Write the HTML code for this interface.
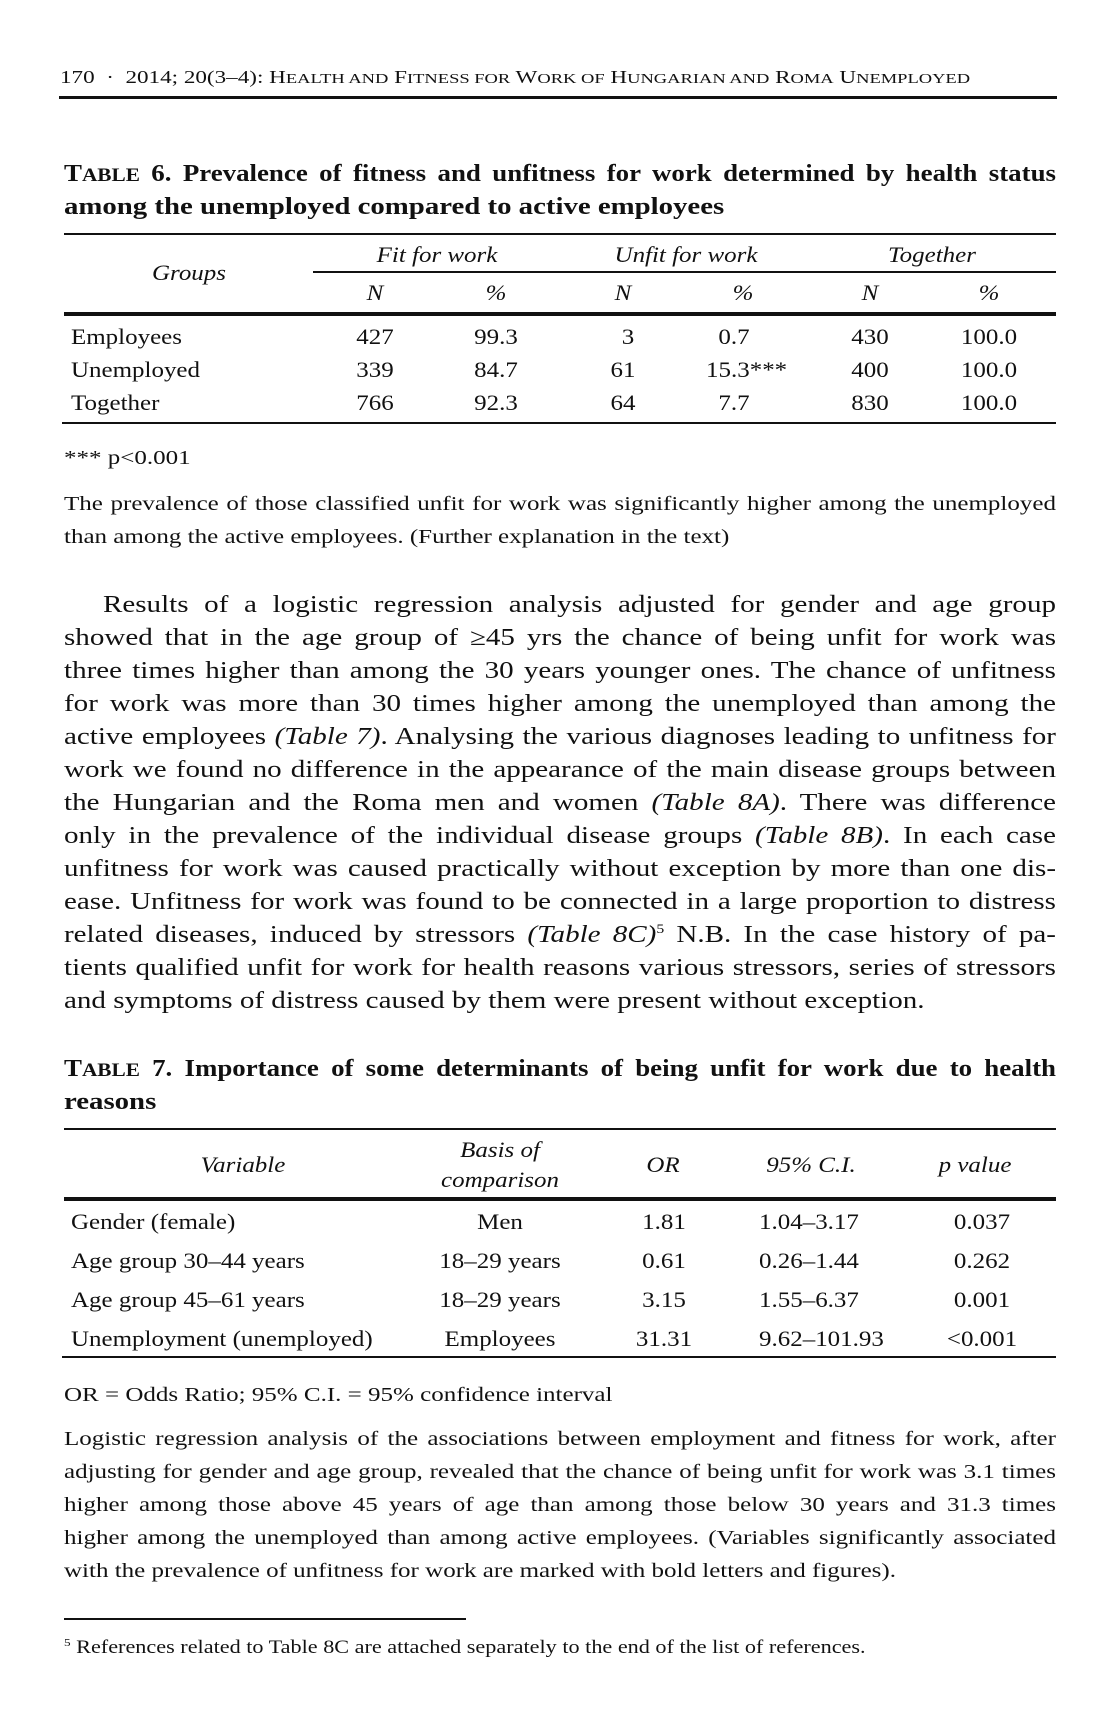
<!DOCTYPE html>
<html><head><meta charset="utf-8"><style>
body{margin:0;background:#fff}
#p{position:relative;width:1112px;height:1725px;overflow:hidden;font-family:"Liberation Serif",serif;color:#111}
#p div{position:absolute;line-height:32px;white-space:nowrap;transform-origin:0 50%}
.r{position:absolute;background:#111}
.j{--s:1.21;left:64px;width:calc(992px / var(--s));text-align:justify;text-align-last:justify;white-space:normal!important;font-size:24px;transform:scaleX(var(--s))}
.b{font-size:24px;transform:scaleX(1.21)}
.t{font-size:22.5px;transform:scaleX(1.11)}
.t.c{transform:translateX(-50%) scaleX(1.11);transform-origin:50% 50%!important}
.i{font-style:italic}
.n{font-size:20.5px;transform:scaleX(1.22)}
.j.n{--s:1.22;transform:scaleX(var(--s))}
.bt{font-weight:bold;font-size:24px;transform:scaleX(1.2)}
.j.bt{--s:1.12;transform:scaleX(var(--s))}
sup{line-height:0;vertical-align:super}
</style></head><body><div id="p">
<div style="left:60px;top:61px;font-size:17.5px;transform:scaleX(1.32)">170 &nbsp;·&nbsp; 2014; 20(3–4): H<span style="font-size:14px">EALTH AND</span> F<span style="font-size:14px">ITNESS FOR</span> W<span style="font-size:14px">ORK OF</span> H<span style="font-size:14px">UNGARIAN AND</span> R<span style="font-size:14px">OMA</span> U<span style="font-size:14px">NEMPLOYED</span></div>
<div class="r" style="left:59px;top:96px;width:998px;height:3px"></div>

<div class="j bt" style="top:158px">T<span style="font-size:19px">ABLE</span> 6. Prevalence of fitness and unfitness for work determined by health status</div>
<div class="bt" style="left:64px;top:191px">among the unemployed compared to active employees</div>
<div class="r" style="left:64px;top:233px;width:992px;height:2px"></div>
<div class="t i c" style="left:437px;top:239px">Fit for work</div>
<div class="t i c" style="left:686px;top:239px">Unfit for work</div>
<div class="t i c" style="left:932px;top:239px">Together</div>
<div class="t i c" style="left:189px;top:257px">Groups</div>
<div class="r" style="left:313px;top:271px;width:743px;height:2px"></div>
<div class="t i c" style="left:375px;top:277px">N</div>
<div class="t i c" style="left:496px;top:277px">%</div>
<div class="t i c" style="left:623px;top:277px">N</div>
<div class="t i c" style="left:743px;top:277px">%</div>
<div class="t i c" style="left:870px;top:277px">N</div>
<div class="t i c" style="left:989px;top:277px">%</div>
<div class="r" style="left:64px;top:312px;width:992px;height:4px"></div>

<div class="t" style="left:71px;top:321px">Employees</div>
<div class="t c" style="left:375px;top:321px">427</div><div class="t c" style="left:496px;top:321px">99.3</div><div class="t c" style="left:628px;top:321px">3</div><div class="t c" style="left:734px;top:321px">0.7</div><div class="t c" style="left:870px;top:321px">430</div><div class="t c" style="left:989px;top:321px">100.0</div>
<div class="t" style="left:71px;top:354px">Unemployed</div>
<div class="t c" style="left:375px;top:354px">339</div><div class="t c" style="left:496px;top:354px">84.7</div><div class="t c" style="left:623px;top:354px">61</div><div class="t" style="left:706px;top:354px">15.3***</div><div class="t c" style="left:870px;top:354px">400</div><div class="t c" style="left:989px;top:354px">100.0</div>
<div class="t" style="left:71px;top:387px">Together</div>
<div class="t c" style="left:375px;top:387px">766</div><div class="t c" style="left:496px;top:387px">92.3</div><div class="t c" style="left:623px;top:387px">64</div><div class="t c" style="left:734px;top:387px">7.7</div><div class="t c" style="left:870px;top:387px">830</div><div class="t c" style="left:989px;top:387px">100.0</div>
<div class="r" style="left:62px;top:422px;width:994px;height:2px"></div>

<div class="n" style="left:64px;top:442px">*** p&lt;0.001</div>
<div class="j n" style="top:488px">The prevalence of those classified unfit for work was significantly higher among the unemployed</div>
<div class="n" style="left:64px;top:521px">than among the active employees. (Further explanation in the text)</div>

<div class="j" style="top:589px;left:103px;width:calc(953px / 1.21)">Results of a logistic regression analysis adjusted for gender and age group</div>
<div class="j" style="top:622px">showed that in the age group of ≥45 yrs the chance of being unfit for work was</div>
<div class="j" style="top:655px">three times higher than among the 30 years younger ones. The chance of unfitness</div>
<div class="j" style="top:688px">for work was more than 30 times higher among the unemployed than among the</div>
<div class="j" style="top:721px">active employees <i>(Table 7)</i>. Analysing the various diagnoses leading to unfitness for</div>
<div class="j" style="top:754px">work we found no difference in the appearance of the main disease groups between</div>
<div class="j" style="top:787px">the Hungarian and the Roma men and women <i>(Table 8A)</i>. There was difference</div>
<div class="j" style="top:820px">only in the prevalence of the individual disease groups <i>(Table 8B)</i>. In each case</div>
<div class="j" style="top:853px">unfitness for work was caused practically without exception by more than one dis-</div>
<div class="j" style="top:886px">ease. Unfitness for work was found to be connected in a large proportion to distress</div>
<div class="j" style="top:919px">related diseases, induced by stressors <i>(Table 8C)</i><sup style="font-size:13px">5</sup> N.B. In the case history of pa-</div>
<div class="j" style="top:952px">tients qualified unfit for work for health reasons various stressors, series of stressors</div>
<div class="b" style="left:64px;top:985px">and symptoms of distress caused by them were present without exception.</div>

<div class="j bt" style="top:1053px">T<span style="font-size:19px">ABLE</span> 7. Importance of some determinants of being unfit for work due to health</div>
<div class="bt" style="left:64px;top:1086px">reasons</div>
<div class="r" style="left:64px;top:1128px;width:992px;height:2px"></div>
<div class="t i c" style="left:243px;top:1149px">Variable</div>
<div class="t i c" style="left:500px;top:1134px">Basis of</div>
<div class="t i c" style="left:500px;top:1164px">comparison</div>
<div class="t i c" style="left:663px;top:1149px">OR</div>
<div class="t i c" style="left:811px;top:1149px">95% C.I.</div>
<div class="t i c" style="left:975px;top:1149px">p value</div>
<div class="r" style="left:64px;top:1197px;width:992px;height:4px"></div>

<div class="t" style="left:71px;top:1206px">Gender (female)</div><div class="t c" style="left:500px;top:1206px">Men</div><div class="t c" style="left:664px;top:1206px">1.81</div><div class="t" style="left:759px;top:1206px">1.04–3.17</div><div class="t c" style="left:982px;top:1206px">0.037</div>
<div class="t" style="left:71px;top:1245px">Age group 30–44 years</div><div class="t c" style="left:500px;top:1245px">18–29 years</div><div class="t c" style="left:664px;top:1245px">0.61</div><div class="t" style="left:759px;top:1245px">0.26–1.44</div><div class="t c" style="left:982px;top:1245px">0.262</div>
<div class="t" style="left:71px;top:1284px">Age group 45–61 years</div><div class="t c" style="left:500px;top:1284px">18–29 years</div><div class="t c" style="left:664px;top:1284px">3.15</div><div class="t" style="left:759px;top:1284px">1.55–6.37</div><div class="t c" style="left:982px;top:1284px">0.001</div>
<div class="t" style="left:71px;top:1323px">Unemployment (unemployed)</div><div class="t c" style="left:500px;top:1323px">Employees</div><div class="t c" style="left:664px;top:1323px">31.31</div><div class="t" style="left:759px;top:1323px">9.62–101.93</div><div class="t c" style="left:982px;top:1323px">&lt;0.001</div>
<div class="r" style="left:62px;top:1356px;width:994px;height:2px"></div>

<div class="n" style="left:64px;top:1379px">OR = Odds Ratio; 95% C.I. = 95% confidence interval</div>
<div class="j n" style="top:1423px">Logistic regression analysis of the associations between employment and fitness for work, after</div>
<div class="j n" style="top:1456px">adjusting for gender and age group, revealed that the chance of being unfit for work was 3.1 times</div>
<div class="j n" style="top:1489px">higher among those above 45 years of age than among those below 30 years and 31.3 times</div>
<div class="j n" style="top:1522px">higher among the unemployed than among active employees. (Variables significantly associated</div>
<div class="n" style="left:64px;top:1555px">with the prevalence of unfitness for work are marked with bold letters and figures).</div>

<div class="r" style="left:64px;top:1618px;width:402px;height:2px"></div>
<div style="left:64px;top:1632px;font-size:18.5px;transform:scaleX(1.2)"><sup style="font-size:11px">5</sup> References related to Table 8C are attached separately to the end of the list of references.</div>
</div></body></html>
